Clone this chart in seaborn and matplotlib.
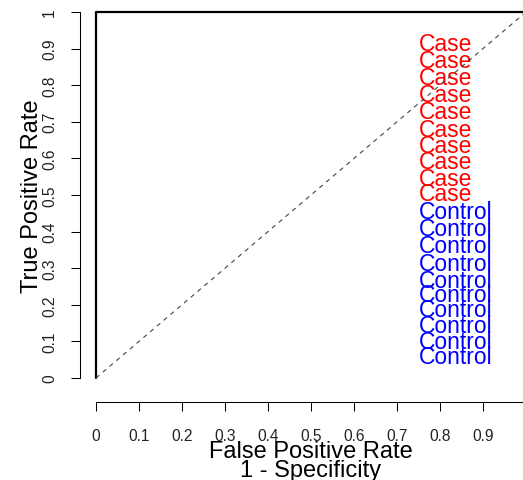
import numpy as np
import pandas as pd
import matplotlib
matplotlib.use("Agg")
import matplotlib.pyplot as plt
import matplotlib.transforms as mtrans
import seaborn as sns

# ---- data ----
roc_fpr = [0.0, 0.0, 1.0]
roc_tpr = [0.0, 1.0, 1.0]
diag_x = [0.0, 1.0]
diag_y = [0.0, 1.0]
case_labels = ["Case"] * 10
case_y = [0.917, 0.870, 0.823, 0.776, 0.730, 0.683, 0.639, 0.594, 0.549, 0.507]
control_labels = ["Control"] * 10
control_y = [0.457, 0.412, 0.366, 0.316, 0.270, 0.230, 0.189, 0.145, 0.102, 0.061]
label_x = 0.752
tick_values = [0.0, 0.1, 0.2, 0.3, 0.4, 0.5, 0.6, 0.7, 0.8, 0.9, 1.0]
tick_labels = ["0", "0.1", "0.2", "0.3", "0.4", "0.5", "0.6", "0.7", "0.8", "0.9", "1"]
xlabel_lines = ["False Positive Rate", "1 - Specificity"]
ylabel_text = "True Positive Rate"

sns.set_theme(style="white")
plt.rcParams['font.family'] = ['Liberation Sans', 'DejaVu Sans']

W, H = 523, 481
fig = plt.figure(figsize=(W / 100, H / 100), dpi=100)
fig.patch.set_facecolor("white")
ax = fig.add_axes([96 / W, 102 / H, 430 / W, 366 / H])
ax.set_facecolor("white")

roc_df = pd.DataFrame({"fpr": roc_fpr, "tpr": roc_tpr})
sns.lineplot(data=roc_df, x="fpr", y="tpr", estimator=None, sort=False,
             color="black", linewidth=1.6, ax=ax, clip_on=False, zorder=3)

diag_df = pd.DataFrame({"x": diag_x, "y": diag_y})
sns.lineplot(data=diag_df, x="x", y="y", estimator=None, sort=False,
             color="#444444", linewidth=0.8, linestyle=(0, (4, 4)), ax=ax,
             clip_on=False, zorder=5)

text_trans = ax.transData + mtrans.ScaledTranslation(0, -7.5 / 100, fig.dpi_scale_trans)
for lab, yv in zip(case_labels, case_y):
    ax.text(label_x, yv, lab, color="#FF0000", fontsize=16.5, ha="left",
            va="baseline", transform=text_trans, clip_on=False, zorder=4)
for lab, yv in zip(control_labels, control_y):
    ax.text(label_x, yv, lab, color="#0000FF", fontsize=16.5, ha="left",
            va="baseline", transform=text_trans, clip_on=False, zorder=4)

ax.set_xlim(0, 1)
ax.set_ylim(0, 1)
ax.set_xlabel("")
ax.set_ylabel("")
ax.grid(False)

sns.despine(ax=ax, offset={"left": 16 * 0.72, "bottom": 24 * 0.72})
for side in ("left", "bottom"):
    ax.spines[side].set_color("black")
    ax.spines[side].set_linewidth(0.75)
    ax.spines[side].set_bounds(0, 1)

ax.set_xticks(tick_values, tick_labels)
ax.set_yticks(tick_values, tick_labels)
ax.tick_params(axis="both", direction="out", length=6.5, width=0.75,
               color="black", labelsize=11.2, labelcolor="#222222",
               bottom=True, left=True)
ax.tick_params(axis="x", pad=12.2)
ax.tick_params(axis="y", pad=10)
for lab in ax.get_yticklabels():
    lab.set_rotation(90)
    lab.set_va("center")
    lab.set_ha("right")

fig.text(311 / W, 1 - 458.3 / H, xlabel_lines[0], fontsize=17, ha="center",
         va="baseline", color="black")
fig.text(311 / W, 1 - 476.7 / H, xlabel_lines[1], fontsize=17, ha="center",
         va="baseline", color="black")
fig.text(38 / W, 1 - 196 / H, ylabel_text, fontsize=17, ha="center",
         va="baseline", rotation=90, rotation_mode="anchor", color="black")

fig.savefig("out.png", dpi=100)
